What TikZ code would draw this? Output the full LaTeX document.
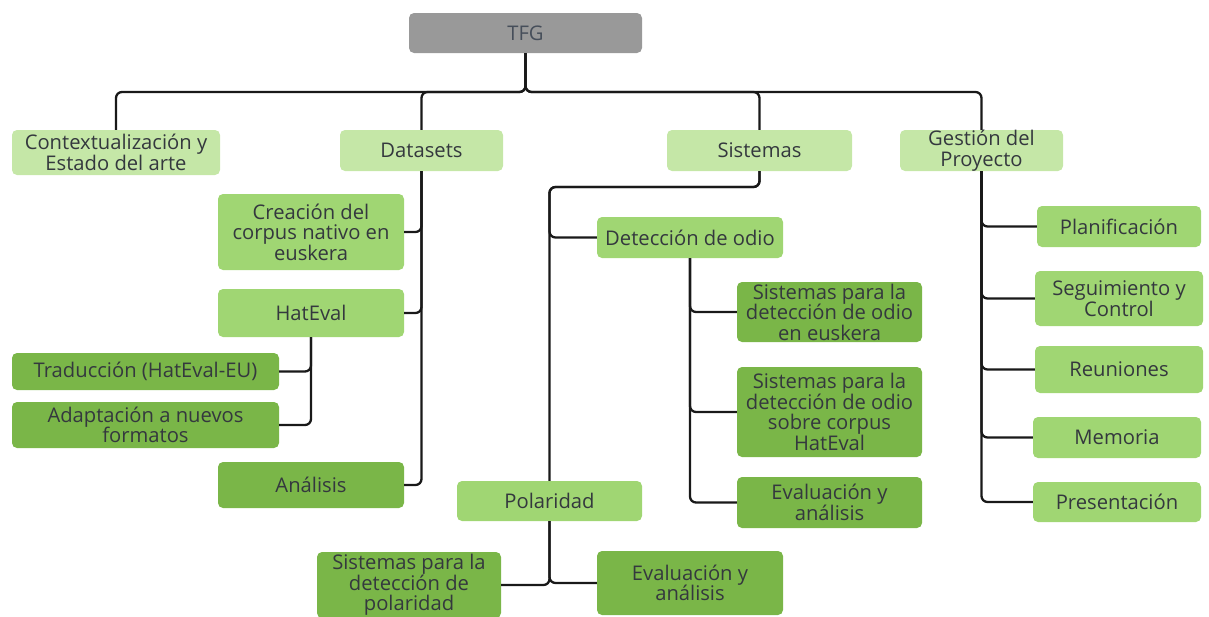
\documentclass[tikz,border=0pt]{standalone}
\usepackage{fontspec}
\setmainfont{Open Sans}
\definecolor{lt}{RGB}{197,231,167}
\definecolor{md}{RGB}{160,214,115}
\definecolor{dk}{RGB}{122,182,72}
\definecolor{gr}{RGB}{153,153,153}
\definecolor{txt}{RGB}{52,56,62}
\definecolor{tfgtxt}{RGB}{70,78,90}
\tikzset{
  box/.style={rounded corners=5pt, inner sep=0pt, align=center, text=txt,
    font=\fontsize{20.2}{20.5}\selectfont},
  lbox/.style={box, fill=lt},
  mbox/.style={box, fill=md},
  dbox/.style={box, fill=dk},
  conn/.style={draw=black!90, line width=2.3pt, rounded corners=6pt},
}
\begin{document}
\begin{tikzpicture}[x=1pt,y=-1pt]
\useasboundingbox (0,0) rectangle (1209,616);
% level 0
\node[box, fill=gr, text=tfgtxt, minimum width=233pt, minimum height=40pt] (tfg) at (525.5,33) {TFG};
% level 1
\node[lbox, minimum width=208pt, minimum height=45pt] (ctx) at (116,152.5) {Contextualización y\\Estado del arte};
\node[lbox, minimum width=163pt, minimum height=41pt] (dat) at (421.5,150.5) {Datasets};
\node[lbox, minimum width=185pt, minimum height=41pt] (sis) at (759.5,150.5) {Sistemas};
\node[lbox, minimum width=163pt, minimum height=41pt] (ges) at (981.5,150.5) {Gestión del\\Proyecto};
% datasets
\node[mbox, minimum width=186pt, minimum height=76pt] (cre) at (311,232) {Creación del\\corpus nativo en\\euskera};
\node[mbox, minimum width=186pt, minimum height=48pt] (hat) at (311,313) {HatEval};
\node[dbox, minimum width=267pt, minimum height=37pt] (tra) at (145.5,371.5) {Traducción (HatEval-EU)};
\node[dbox, minimum width=267pt, minimum height=46pt] (ada) at (145.5,425) {Adaptación a nuevos\\formatos};
\node[dbox, minimum width=186pt, minimum height=46pt] (ana) at (311,485) {Análisis};
% sistemas
\node[mbox, minimum width=186pt, minimum height=41pt] (det) at (690,237.5) {Detección de odio};
\node[dbox, minimum width=185pt, minimum height=60pt] (seu) at (829.5,312) {Sistemas para la\\detección de odio\\en euskera};
\node[dbox, minimum width=185pt, minimum height=90pt] (she) at (829.5,412) {Sistemas para la\\detección de odio\\sobre corpus\\HatEval};
\node[dbox, minimum width=185pt, minimum height=51pt] (ev1) at (829.5,502.5) {Evaluación y\\análisis};
\node[mbox, minimum width=185pt, minimum height=40pt] (pol) at (549.5,501) {Polaridad};
\node[dbox, minimum width=184pt, minimum height=66pt] (spo) at (409,585) {Sistemas para la\\detección de\\polaridad};
\node[dbox, minimum width=186pt, minimum height=64pt] (ev2) at (690,583) {Evaluación y\\análisis};
% gestion
\node[mbox, minimum width=164pt, minimum height=41pt] (pla) at (1119,226.5) {Planificación};
\node[mbox, minimum width=168pt, minimum height=55pt] (seg) at (1119,298.5) {Seguimiento y\\Control};
\node[mbox, minimum width=168pt, minimum height=47pt] (reu) at (1119,369.5) {Reuniones};
\node[mbox, minimum width=168pt, minimum height=41pt] (mem) at (1117,437.5) {Memoria};
\node[mbox, minimum width=168pt, minimum height=40pt] (pre) at (1117,502) {Presentación};
% connectors
\coordinate (bus) at (525.5,92);
\coordinate (sj) at (549.5,187);
\foreach \c in {ctx,dat,sis,ges}{
  \draw[conn] (tfg.south) |- (bus) -| (\c.north);
}
\foreach \c in {cre,hat,ana}{ \draw[conn] (dat.south) |- (\c.east); }
\foreach \c in {tra,ada}{ \draw[conn] (hat.south) |- (\c.east); }
\draw[conn] (sis.south) |- (sj) -- (pol.north);
\draw[conn] (sis.south) |- (sj) |- (det.west);
\foreach \c in {seu,she,ev1}{ \draw[conn] (det.south) |- (\c.west); }
\draw[conn] (pol.south) |- (spo.east);
\draw[conn] (pol.south) |- (ev2.west);
\foreach \c in {pla,seg,reu,mem,pre}{ \draw[conn] (ges.south) |- (\c.west); }
\end{tikzpicture}
\end{document}
